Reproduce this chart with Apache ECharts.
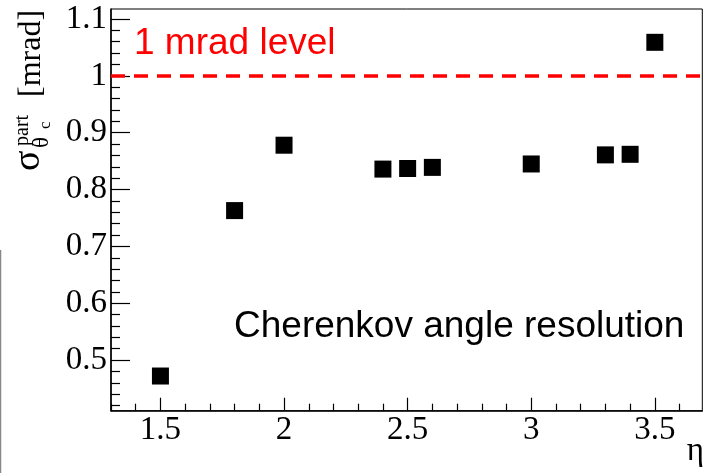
<!DOCTYPE html>
<html>
<head>
<meta charset="utf-8">
<script src="https://cdn.jsdelivr.net/npm/echarts@6/dist/echarts.min.js"></script>
<style>
  html, body { margin: 0; padding: 0; background: #fff; }
  #chart { width: 705px; height: 473px; }
</style>
</head>
<body>
<div id="chart"></div>
<script>
// pseudorapidity points and measured resolution [mrad]
const etaValues = [1.5, 1.8, 2.0, 2.4, 2.5, 2.6, 3.0, 3.3, 3.4, 3.5];
const sigmaValues = [0.472, 0.763, 0.878, 0.836, 0.837, 0.839, 0.845, 0.861, 0.862, 1.059];
const levelValue = 1;

// axis ticks
const xTickValues = [1.5, 2, 2.5, 3, 3.5];
const yTickValues = [0.5, 0.6, 0.7, 0.8, 0.9, 1, 1.1];
const xMinorStep = 0.1;
const yMinorStep = 0.02;

const xMin = 1.3, xMax = 3.692;
const yMin = 0.411, yMax = 1.1176;

function minorValues(min, max, step, majors) {
  const out = [];
  const start = Math.ceil(min / step - 1e-6);
  const end = Math.floor(max / step + 1e-6);
  for (let i = start; i <= end; i++) {
    const v = +(i * step).toFixed(4);
    if (!majors.some(m => Math.abs(m - v) < 1e-6)) out.push(v);
  }
  return out;
}

const serif = "'Liberation Serif', 'Times New Roman', serif";
const sans = "'Liberation Sans', Arial, sans-serif";

const chart = echarts.init(document.getElementById("chart"));

const option = {
  animation: false,
  backgroundColor: "#fff",
  grid: {
    show: true,
    left: 111,
    top: 9,
    width: 591.3,
    height: 401.7,
    borderColor: "#000",
    borderWidth: 1,
    backgroundColor: "transparent"
  },
  xAxis: [
    {
      type: "value",
      min: xMin,
      max: xMax,
      position: "bottom",
      axisLine: { show: true, lineStyle: { color: "#000", width: 1.5 } },
      axisTick: { show: true, inside: true, length: 13, customValues: xTickValues, lineStyle: { color: "#000", width: 1.2 } },
      axisLabel: {
        show: true,
        customValues: xTickValues,
        margin: 3,
        color: "#000",
        fontFamily: serif,
        fontSize: 33
      },
      splitLine: { show: false }
    },
    {
      type: "value",
      min: xMin,
      max: xMax,
      position: "bottom",
      axisLine: { show: false },
      axisTick: { show: true, inside: true, length: 7, customValues: minorValues(xMin, xMax, xMinorStep, xTickValues), lineStyle: { color: "#000", width: 1.2 } },
      axisLabel: { show: false },
      splitLine: { show: false }
    }
  ],
  yAxis: [
    {
      type: "value",
      min: yMin,
      max: yMax,
      position: "left",
      axisLine: { show: true, lineStyle: { color: "#000", width: 1.5 } },
      axisTick: { show: true, inside: true, length: 19, customValues: yTickValues, lineStyle: { color: "#000", width: 1.2 } },
      axisLabel: {
        show: true,
        customValues: yTickValues,
        margin: 4,
        color: "#000",
        fontFamily: serif,
        fontSize: 33
      },
      splitLine: { show: false }
    },
    {
      type: "value",
      min: yMin,
      max: yMax,
      position: "left",
      axisLine: { show: false },
      axisTick: { show: true, inside: true, length: 9, customValues: minorValues(yMin, yMax, yMinorStep, yTickValues), lineStyle: { color: "#000", width: 1.2 } },
      axisLabel: { show: false },
      splitLine: { show: false }
    }
  ],
  series: [
    {
      type: "scatter",
      xAxisIndex: 0,
      yAxisIndex: 0,
      symbol: "rect",
      symbolSize: 17,
      itemStyle: { color: "#000", opacity: 1 },
      data: etaValues.map((x, i) => [x, sigmaValues[i]]),
      markLine: {
        silent: true,
        symbol: ["none", "none"],
        label: { show: false },
        lineStyle: { color: "#ff0000", type: [14, 9], width: 3.5, opacity: 1 },
        data: [{ yAxis: levelValue }]
      },
      z: 5
    }
  ],
  graphic: [
    {
      type: "text",
      x: 134,
      y: 44.2,
      style: { text: "1 mrad level", fill: "#ff0000", font: "37px " + sans, textAlign: "left", textVerticalAlign: "middle" }
    },
    {
      type: "text",
      x: 234,
      y: 326.5,
      style: { text: "Cherenkov angle resolution", fill: "#000", font: "37px " + sans, textAlign: "left", textVerticalAlign: "middle" }
    },
    {
      type: "text",
      x: 704,
      y: 451.7,
      style: { text: "η", fill: "#000", font: "33px " + serif, textAlign: "right", textVerticalAlign: "middle" }
    },
    {
      type: "group",
      x: 42,
      y: 171,
      rotation: Math.PI / 2,
      children: [
        { type: "text", x: 0, y: -12.5, style: { text: "σ", fill: "#000", font: "38px " + serif, textAlign: "left", textVerticalAlign: "middle" } },
        { type: "text", x: 25, y: -19, style: { text: "part", fill: "#000", font: "20px " + serif, textAlign: "left", textVerticalAlign: "middle" } },
        { type: "text", x: 23, y: 0, style: { text: "θ", fill: "#000", font: "23px " + serif, textAlign: "left", textVerticalAlign: "middle" } },
        { type: "text", x: 42, y: 4, style: { text: "c", fill: "#000", font: "17px " + serif, textAlign: "left", textVerticalAlign: "middle" } },
        { type: "text", x: 74, y: -10.8, style: { text: "[mrad]", fill: "#000", font: "32px " + serif, textAlign: "left", textVerticalAlign: "middle" } }
      ]
    },
    {
      type: "line",
      shape: { x1: 0.5, y1: 250, x2: 0.5, y2: 473 },
      style: { stroke: "#888", lineWidth: 1.5 }
    }
  ]
};

chart.setOption(option);
</script>
</body>
</html>
